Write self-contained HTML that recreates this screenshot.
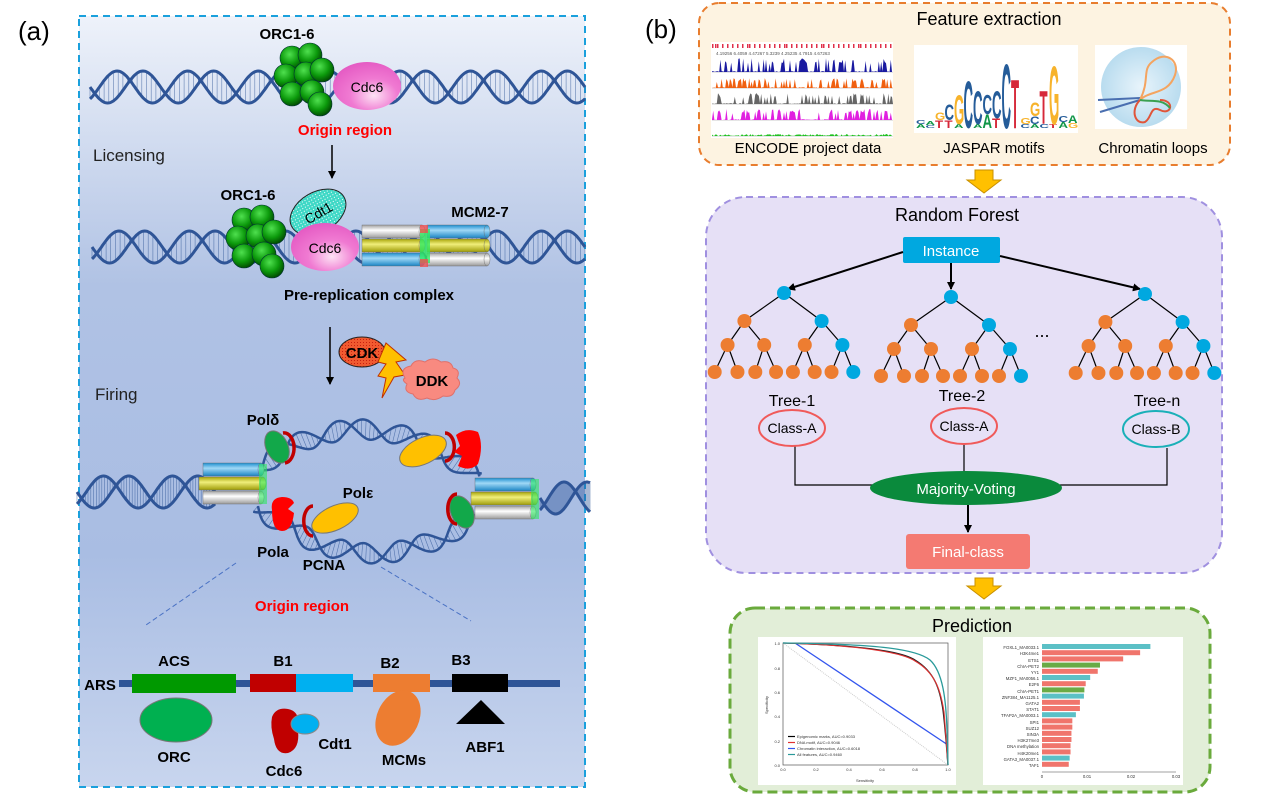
<!DOCTYPE html>
<html><head><meta charset="utf-8"><style>
html,body{margin:0;padding:0;background:#fff}
svg{display:block;font-family:"Liberation Sans",Arial,sans-serif}
.b{font-weight:bold}
</style></head><body>
<svg id="s" width="1268" height="800" viewBox="0 0 1268 800" xmlns="http://www.w3.org/2000/svg">
<defs>
<linearGradient id="lbg" x1="0" y1="0" x2="0" y2="1">
<stop offset="0" stop-color="#eef2fa"/><stop offset="0.35" stop-color="#b0c2e4"/><stop offset="0.7" stop-color="#a9bde3"/><stop offset="1" stop-color="#c8d5ee"/></linearGradient>
<radialGradient id="gb" cx="0.4" cy="0.35" r="0.65"><stop offset="0" stop-color="#4fe04f"/><stop offset="0.6" stop-color="#0c9a0c"/><stop offset="1" stop-color="#024f02"/></radialGradient>
<radialGradient id="pk" cx="0.6" cy="0.7" r="0.7"><stop offset="0" stop-color="#fde2f4"/><stop offset="0.5" stop-color="#f07ad2"/><stop offset="1" stop-color="#e55cc4"/></radialGradient>
<linearGradient id="cb" x1="0" y1="0" x2="0" y2="1"><stop offset="0" stop-color="#1d8fd0"/><stop offset="0.4" stop-color="#9fd8f6"/><stop offset="1" stop-color="#1b84c4"/></linearGradient>
<linearGradient id="cy" x1="0" y1="0" x2="0" y2="1"><stop offset="0" stop-color="#a8a50a"/><stop offset="0.4" stop-color="#f0ee7a"/><stop offset="1" stop-color="#9e9b08"/></linearGradient>
<linearGradient id="cg" x1="0" y1="0" x2="0" y2="1"><stop offset="0" stop-color="#a0a0a0"/><stop offset="0.4" stop-color="#ffffff"/><stop offset="1" stop-color="#999"/></linearGradient>
<linearGradient id="cm" x1="0" y1="0" x2="0" y2="1"><stop offset="0" stop-color="#8a2060"/><stop offset="0.5" stop-color="#c97ab0"/><stop offset="1" stop-color="#7a1a55"/></linearGradient>
<pattern id="dots" width="3" height="3" patternUnits="userSpaceOnUse"><rect width="3" height="3" fill="#3fd8c6"/><rect width="1" height="1" fill="#fff"/></pattern>
<pattern id="dotsr" width="3" height="3" patternUnits="userSpaceOnUse"><rect width="3" height="3" fill="#f05a30"/><rect width="1" height="1" fill="#c82010"/></pattern>
<marker id="ah" markerWidth="8" markerHeight="8" refX="7" refY="4" orient="auto" markerUnits="userSpaceOnUse"><path d="M0,0 L8,4 L0,8 z" fill="#000"/></marker>
<radialGradient id="sph" cx="0.5" cy="0.5" r="0.5"><stop offset="0" stop-color="#e8f4fb"/><stop offset="1" stop-color="#b9dcef"/></radialGradient>
</defs>

<!-- LEFT PANEL -->
<text x="18" y="40" font-size="26">(a)</text>
<rect x="79" y="16" width="506" height="771" fill="url(#lbg)" stroke="#1aa0dc" stroke-width="2" stroke-dasharray="7,5"/>
<g id="dna"></g>
<text x="93" y="161" font-size="17" fill="#222">Licensing</text>
<text x="95" y="400" font-size="17" fill="#222">Firing</text>

<g id="orc1"></g>
<ellipse cx="367" cy="86" rx="34" ry="24" fill="url(#pk)"/>
<text x="367" y="92" font-size="14" text-anchor="middle">Cdc6</text>
<text x="287" y="39" font-size="15" class="b" text-anchor="middle">ORC1-6</text>
<text x="345" y="135" font-size="15" class="b" fill="#f00" text-anchor="middle">Origin region</text>
<line x1="332" y1="145" x2="332" y2="178" stroke="#000" stroke-width="1.5" marker-end="url(#ah)"/>

<text x="248" y="200" font-size="15" class="b" text-anchor="middle">ORC1-6</text>
<g id="orc2"></g>
<g id="mcm1"></g>
<ellipse cx="318" cy="212" rx="30" ry="20" transform="rotate(-30 318 212)" fill="url(#dots)" stroke="#222" stroke-width="1"/>
<text x="318" y="218" font-size="14" text-anchor="middle" transform="rotate(-30 318 212)">Cdt1</text>
<ellipse cx="325" cy="247" rx="34" ry="24" fill="url(#pk)"/>
<text x="325" y="253" font-size="14" text-anchor="middle">Cdc6</text>
<text x="480" y="217" font-size="15" class="b" text-anchor="middle">MCM2-7</text>
<text x="369" y="300" font-size="15" class="b" text-anchor="middle">Pre-replication complex</text>
<line x1="330" y1="327" x2="330" y2="384" stroke="#000" stroke-width="1.5" marker-end="url(#ah)"/>
<ellipse cx="362" cy="352" rx="23" ry="15" fill="url(#dotsr)" stroke="#222"/>
<text x="362" y="358" font-size="15" class="b" text-anchor="middle">CDK</text>
<path d="M386,343 L406,360 L396,362 L405,375 L394,377 L382,398 L386,378 L378,376 L386,364 L378,362 Z" fill="#ffc000" stroke="#c03000" stroke-width="1"/>
<path d="M405,378 q-6,-10 6,-12 q4,-8 14,-4 q8,-6 16,0 q10,-2 12,6 q8,2 4,10 q6,6 -2,12 q-2,8 -12,6 q-8,6 -16,2 q-10,4 -14,-4 q-10,-2 -6,-10 q-6,-4 -2,-6z" fill="#f88a80" stroke="#e0706a"/>
<text x="432" y="386" font-size="15" class="b" text-anchor="middle">DDK</text>

<g id="mcm2"></g>
<g id="prot">
<ellipse cx="277" cy="447" rx="11" ry="17" transform="rotate(-25 277 447)" fill="#12a84a" stroke="#777"/>
<path d="M283,433 a8,12 0 1 1 2,30" fill="none" stroke="#c00000" stroke-width="3.5"/>
<path d="M272,510 q-2,-12 10,-13 q10,0 12,6 l-6,6 l6,4 q-2,18 -12,18 q-10,0 -10,-21z" fill="#f00"/>
<ellipse cx="335" cy="518" rx="25" ry="12" transform="rotate(-25 335 518)" fill="#ffc000" stroke="#777"/>
<path d="M313,506 a8,13 0 1 0 0,30" fill="none" stroke="#c00000" stroke-width="3.5"/>
<ellipse cx="423" cy="451" rx="25" ry="13" transform="rotate(-25 423 451)" fill="#ffc000" stroke="#777"/>
<path d="M445,433 a8,12 0 1 1 0,28" fill="none" stroke="#c00000" stroke-width="3.5"/>
<path d="M456,435 q10,-8 22,-3 q6,14 0,32 q-8,8 -20,2 l4,-10 l-8,-4 l6,-6 z" fill="#f00"/>
<ellipse cx="462" cy="512" rx="11" ry="17" transform="rotate(-25 462 512)" fill="#12a84a" stroke="#777"/>
<path d="M457,494 a8,13 0 1 0 0,30" fill="none" stroke="#c00000" stroke-width="3.5"/>
</g>
<text x="263" y="425" font-size="15" class="b" text-anchor="middle">Polδ</text>
<text x="358" y="498" font-size="15" class="b" text-anchor="middle">Polε</text>
<text x="273" y="557" font-size="15" class="b" text-anchor="middle">Pola</text>
<text x="324" y="570" font-size="15" class="b" text-anchor="middle">PCNA</text>
<line x1="236" y1="563" x2="146" y2="625" stroke="#4a72c4" stroke-dasharray="5,3"/>
<line x1="381" y1="567" x2="471" y2="621" stroke="#4a72c4" stroke-dasharray="5,3"/>
<text x="302" y="611" font-size="15" class="b" fill="#f00" text-anchor="middle">Origin region</text>

<rect x="119" y="680" width="441" height="7" fill="#2f5597"/>
<text x="100" y="690" font-size="15" class="b" text-anchor="middle">ARS</text>
<rect x="132" y="674" width="104" height="19" fill="#009900"/>
<rect x="250" y="674" width="46" height="18" fill="#c00000"/>
<rect x="296" y="674" width="57" height="18" fill="#00b0f0"/>
<rect x="373" y="674" width="57" height="18" fill="#ed7d31"/>
<rect x="452" y="674" width="56" height="18" fill="#000"/>
<text x="174" y="666" font-size="15" class="b" text-anchor="middle">ACS</text>
<text x="283" y="666" font-size="15" class="b" text-anchor="middle">B1</text>
<text x="390" y="668" font-size="15" class="b" text-anchor="middle">B2</text>
<text x="461" y="665" font-size="15" class="b" text-anchor="middle">B3</text>
<ellipse cx="176" cy="720" rx="36" ry="22" fill="#00b050" stroke="#777"/>
<text x="174" y="762" font-size="15" class="b" text-anchor="middle">ORC</text>
<path d="M272,717 q4,-10 16,-8 q10,2 10,12 l-6,4 l6,6 q2,18 -10,22 q-12,2 -14,-14 q-4,-12 -2,-22z" fill="#c00000"/>
<ellipse cx="305" cy="724" rx="14" ry="10" fill="#00b0f0" stroke="#888"/>
<text x="335" y="749" font-size="15" class="b" text-anchor="middle">Cdt1</text>
<text x="284" y="776" font-size="15" class="b" text-anchor="middle">Cdc6</text>
<ellipse cx="398" cy="718" rx="21" ry="29" transform="rotate(25 398 718)" fill="#ed7d31"/>
<text x="404" y="765" font-size="15" class="b" text-anchor="middle">MCMs</text>
<path d="M456,724 L481,700 L505,724 Z" fill="#000"/>
<text x="485" y="752" font-size="15" class="b" text-anchor="middle">ABF1</text>

<!-- RIGHT PANEL -->
<text x="645" y="38" font-size="26">(b)</text>
<rect x="699" y="3" width="531" height="162" rx="20" fill="#fdf3e1" stroke="#e87d2e" stroke-width="2" stroke-dasharray="7,5"/>
<text x="989" y="25" font-size="18" text-anchor="middle">Feature extraction</text>
<g id="enc"></g>
<text x="716" y="55" font-size="4.5" fill="#555">4.19256   6.4059   4.47267    5.3239    4.25235  4.7915  4.67263</text>
<rect x="914" y="45" width="164" height="88" fill="#fff"/>
<g id="logo" font-family="Liberation Sans" font-weight="bold"></g>
<rect x="1095" y="45" width="92" height="84" fill="#fff"/>
<circle cx="1141" cy="87" r="40" fill="url(#sph)"/>
<path d="M1098,100 L1140,98 M1100,112 L1140,100" stroke="#4a6fb0" stroke-width="2"/>
<path d="M1140,100 C1150,80 1142,70 1152,62 C1165,50 1180,60 1175,75 C1168,95 1150,90 1140,100" fill="none" stroke="#f4a460" stroke-width="2"/>
<path d="M1140,100 C1130,110 1135,125 1145,122 C1152,118 1150,105 1160,110 C1172,116 1175,100 1160,100" fill="none" stroke="#e0553a" stroke-width="2"/>
<path d="M1140,100 C1150,102 1162,98 1170,108" fill="none" stroke="#3aa050" stroke-width="2"/>
<text x="808" y="153" font-size="15" text-anchor="middle">ENCODE project data</text>
<text x="994" y="153" font-size="15" text-anchor="middle">JASPAR motifs</text>
<text x="1153" y="153" font-size="15" text-anchor="middle">Chromatin loops</text>
<path d="M975,170 h18 v10 h8 l-17,13 l-17,-13 h8 z" fill="#ffc000" stroke="#c89000"/>

<rect x="706" y="197" width="516" height="376" rx="40" fill="#e6e0f6" stroke="#a090e0" stroke-width="2" stroke-dasharray="7,5"/>
<text x="957" y="221" font-size="18" text-anchor="middle">Random Forest</text>
<rect x="903" y="237" width="97" height="26" rx="2" fill="#00a8e0"/>
<text x="951" y="256" font-size="15" fill="#fff" text-anchor="middle">Instance</text>
<line x1="903" y1="252" x2="788" y2="289" stroke="#000" stroke-width="2" marker-end="url(#ah)"/>
<line x1="951" y1="263" x2="951" y2="289" stroke="#000" stroke-width="2" marker-end="url(#ah)"/>
<line x1="1000" y1="256" x2="1140" y2="289" stroke="#000" stroke-width="2" marker-end="url(#ah)"/>
<g id="trees"></g>
<text x="1042" y="337" font-size="18" text-anchor="middle">...</text>
<text x="792" y="406" font-size="16" text-anchor="middle">Tree-1</text>
<text x="962" y="401" font-size="16" text-anchor="middle">Tree-2</text>
<text x="1157" y="406" font-size="16" text-anchor="middle">Tree-n</text>
<path d="M795,445 V485 H880 M1167,448 V485 H1060 M964,443 V475" fill="none" stroke="#000" stroke-width="1.2"/>
<ellipse cx="792" cy="428" rx="33" ry="18" fill="none" stroke="#f05a5a" stroke-width="2"/>
<ellipse cx="964" cy="426" rx="33" ry="18" fill="none" stroke="#f05a5a" stroke-width="2"/>
<ellipse cx="1156" cy="429" rx="33" ry="18" fill="none" stroke="#1ab0b8" stroke-width="2"/>
<text x="792" y="433" font-size="14" text-anchor="middle">Class-A</text>
<text x="964" y="431" font-size="14" text-anchor="middle">Class-A</text>
<text x="1156" y="434" font-size="14" text-anchor="middle">Class-B</text>
<ellipse cx="966" cy="488" rx="96" ry="17" fill="#0a8a3c"/>
<text x="966" y="494" font-size="15" fill="#fff" text-anchor="middle">Majority-Voting</text>
<line x1="968" y1="505" x2="968" y2="532" stroke="#000" stroke-width="2" marker-end="url(#ah)"/>
<rect x="906" y="534" width="124" height="35" rx="3" fill="#f47a72"/>
<text x="968" y="557" font-size="15" fill="#fff" text-anchor="middle">Final-class</text>
<path d="M975,578 h18 v8 h8 l-17,13 l-17,-13 h8 z" fill="#ffc000" stroke="#c89000"/>

<rect x="730" y="608" width="480" height="184" rx="25" fill="#e2eed8" stroke="#6aaa3c" stroke-width="3" stroke-dasharray="10,5"/>
<text x="972" y="632" font-size="18" text-anchor="middle">Prediction</text>
<rect x="758" y="637" width="198" height="148" fill="#fff"/>
<rect x="983" y="637" width="200" height="148" fill="#fff"/>
<g id="roc" fill="none" stroke-width="1">
<rect x="783" y="643" width="165" height="122" stroke="#555" stroke-width="0.7"/>
<line x1="783" y1="643" x2="948" y2="765" stroke="#ccc" stroke-dasharray="1,1"/>
<line x1="795" y1="643" x2="948" y2="745" stroke="#3355ee" stroke-width="1.3"/>
<path d="M783,643 C850,645 900,650 915,660 C935,672 940,690 943,710 C946,735 947,755 948,765" stroke="#222" stroke-width="1.3"/>
<path d="M783,643 C850,645 900,651 915,661 C936,673 941,692 944,712 C946,735 947,755 948,765" stroke="#e03030" stroke-width="1.1"/>
<path d="M783,643 C870,644 915,648 930,660 C943,672 946,700 947,730 L948,765" stroke="#2a9a9a" stroke-width="1.3"/>
</g>
<g font-size="4" fill="#333">
<text x="780" y="645" text-anchor="end">1.0</text><text x="780" y="670" text-anchor="end">0.8</text><text x="780" y="694" text-anchor="end">0.6</text><text x="780" y="718" text-anchor="end">0.4</text><text x="780" y="743" text-anchor="end">0.2</text><text x="780" y="767" text-anchor="end">0.0</text>
<text x="783" y="771" text-anchor="middle">0.0</text><text x="816" y="771" text-anchor="middle">0.2</text><text x="849" y="771" text-anchor="middle">0.4</text><text x="882" y="771" text-anchor="middle">0.6</text><text x="915" y="771" text-anchor="middle">0.8</text><text x="948" y="771" text-anchor="middle">1.0</text>
<text x="865" y="782" text-anchor="middle">Sensitivity</text>
<text x="768" y="705" text-anchor="middle" transform="rotate(-90 768 705)">Specificity</text>
<text x="797" y="738">Epigenomic marks, AUC=0.9033</text>
<text x="797" y="744">DNA motif, AUC=0.9046</text>
<text x="797" y="750">Chromatin interaction, AUC=0.6018</text>
<text x="797" y="756">All features, AUC=0.9460</text>
</g>
<g stroke-width="1.2"><line x1="788" y1="736.5" x2="795" y2="736.5" stroke="#000"/><line x1="788" y1="742.5" x2="795" y2="742.5" stroke="#e03030"/><line x1="788" y1="748.5" x2="795" y2="748.5" stroke="#3355ee"/><line x1="788" y1="754.5" x2="795" y2="754.5" stroke="#2a9a9a"/></g>
<g id="bars"></g>
<g font-size="4.3" fill="#333" text-anchor="end">
<text x="1039" y="649">FOXL1_MA0033.1</text><text x="1039" y="655">H3K4me1</text><text x="1039" y="662">ETS1</text><text x="1039" y="668">ChIA-PET2</text><text x="1039" y="674">YY1</text><text x="1039" y="680">MZF1_MA0056.1</text><text x="1039" y="686">E2F6</text><text x="1039" y="693">ChIA-PET1</text><text x="1039" y="699">ZNF384_MA1125.1</text><text x="1039" y="705">GATA2</text><text x="1039" y="711">STAT1</text><text x="1039" y="717">TFAP2A_MA0003.1</text><text x="1039" y="724">SPI1</text><text x="1039" y="730">SUZ12</text><text x="1039" y="736">SIN3A</text><text x="1039" y="742">H3K27me3</text><text x="1039" y="748">DNA methylation</text><text x="1039" y="755">H4K20me1</text><text x="1039" y="761">GATA3_MA0037.1</text><text x="1039" y="767">TAF1</text>
</g>
<g font-size="4.3" fill="#333" text-anchor="middle"><text x="1042" y="778">0</text><text x="1087" y="778">0.01</text><text x="1131" y="778">0.02</text><text x="1176" y="778">0.03</text></g>
<line x1="1042" y1="772" x2="1176" y2="772" stroke="#444" stroke-width="0.6"/>
</svg>
<script>
(function(){
var NS="http://www.w3.org/2000/svg";
function el(p,t,a){var e=document.createElementNS(NS,t);for(var k in a)e.setAttribute(k,a[k]);p.appendChild(e);return e;}
var dna=document.getElementById('dna');
function helix(p0,p1,p2,amp,nper,sw){
  var N=Math.max(200,Math.round(nper*60)),A=[],B=[];
  for(var i=0;i<=N;i++){var t=i/N,u=1-t;
    var x=u*u*p0[0]+2*u*t*p1[0]+t*t*p2[0],y=u*u*p0[1]+2*u*t*p1[1]+t*t*p2[1];
    var dx=2*u*(p1[0]-p0[0])+2*t*(p2[0]-p1[0]),dy=2*u*(p1[1]-p0[1])+2*t*(p2[1]-p1[1]);
    var L=Math.hypot(dx,dy)||1,nx=-dy/L,ny=dx/L;
    var a=amp*Math.sin(2*Math.PI*nper*t),b=amp*Math.sin(2*Math.PI*nper*t+2.3);
    A.push([x+nx*a,y+ny*a]);B.push([x+nx*b,y+ny*b]);}
  var h="";for(var i=0;i<=N;i+=4){h+="M"+A[i][0].toFixed(1)+","+A[i][1].toFixed(1)+"L"+B[i][0].toFixed(1)+","+B[i][1].toFixed(1);}
  el(dna,'path',{d:h,stroke:'#2f5597','stroke-width':0.6,fill:'none',opacity:0.7});
  [A,B].forEach(function(P){var d="M"+P.map(function(q){return q[0].toFixed(1)+","+q[1].toFixed(1)}).join("L");
    el(dna,'path',{d:d,stroke:'#2f5597','stroke-width':sw,fill:'none'});});
}
helix([90,87],[337,87],[585,87],16,7,3);
helix([92,247],[338,247],[585,247],16,7,3);
helix([77,492],[146,492],[215,492],16,2,3);
helix([540,498],[565,498],[590,498],16,0.8,3);
helix([255,470],[365,385],[478,478],10,3.6,2.5);
helix([258,506],[365,595],[476,517],10,3.6,2.5);
function balls(id,cx,cy){var g=document.getElementById(id);
  [[-14,-22],[4,-25],[-20,-4],[0,-6],[-14,14],[6,12],[16,-10],[14,24]].forEach(function(o){
   el(g,'circle',{cx:cx+o[0],cy:cy+o[1],r:12,fill:'url(#gb)',stroke:'#033',"stroke-width":0.6});});}
balls('orc1',306,80);balls('orc2',258,242);
function cyl(g,x,y,w,h,f){el(g,'rect',{x:x,y:y,width:w,height:h,fill:f,stroke:'#666','stroke-width':0.4});
  el(g,'ellipse',{cx:x+w,cy:y+h/2,rx:3,ry:h/2,fill:f,stroke:'#666','stroke-width':0.4});}
function mcm(id,x,y,order){var g=document.getElementById(id);
  var cols=['url(#cm)','url(#cg)','url(#cy)','url(#cb)'];
  order.forEach(function(r,i){cyl(g,x,y+i*14,60,13,cols[r[0]]);cyl(g,x+65,y+i*14,60,13,cols[r[1]]);});
  el(g,'rect',{x:x+58,y:y+4,width:10,height:order.length*14-8,fill:'#2ee860',opacity:0.8});
  el(g,'rect',{x:x+58,y:y,width:8,height:8,fill:'#f05050',opacity:0.8});
  el(g,'rect',{x:x+58,y:y+order.length*14-8,width:8,height:8,fill:'#f05050',opacity:0.8});}
mcm('mcm1',362,225,[[1,3],[2,2],[3,1]]);
var g2=document.getElementById('mcm2');
function stack(x,y){cyl(g2,x,y,58,13,'url(#cb)');cyl(g2,x-4,y+14,64,13,'url(#cy)');cyl(g2,x,y+28,58,13,'url(#cg)');
 el(g2,'rect',{x:x+56,y:y+1,width:8,height:40,fill:'#2ee860',opacity:0.6});}
stack(203,463);stack(475,478);
// encode
var enc=document.getElementById('enc');
el(enc,'rect',{x:711,y:42,width:182,height:96,fill:'#fff'});
for(var i=0;i<40;i++){var x=712+Math.floor((i*37)%180);el(enc,'rect',{x:x,y:44,width:1.5,height:4,fill:'#e0304a'});}
var tr=[[72,'#1a1aa0',14],[88,'#f06010',10],[104,'#666',11],[120,'#e020e0',11],[136,'#20c020',2]];
var seed=7;function rnd(){seed=(seed*9301+49297)%233280;return seed/233280;}
tr.forEach(function(t){var d="M712,"+t[0];for(var x=712;x<893;x+=1.2){var v=rnd();var hh=(v>0.6?v*t[2]:v*1.5);d+="L"+x.toFixed(1)+","+(t[0]-hh).toFixed(1);}d+="L893,"+t[0]+"Z";
 el(enc,'path',{d:d,fill:t[1]});el(enc,'line',{x1:712,y1:t[0]+0.5,x2:893,y2:t[0]+0.5,stroke:'#ccc','stroke-width':0.6});});
// trees
var T=document.getElementById('trees');var O='#ed7d31',Bc='#00a8e0';
function tree(rx,ry,s){
 var r=[rx,ry],L1=[[rx-40*s,ry+28],[rx+38*s,ry+28]],
 L2=[[rx-57*s,ry+52],[rx-20*s,ry+52],[rx+21*s,ry+52],[rx+59*s,ry+52]],
 Lv=[-70,-47,-29,-8,9,31,48,70].map(function(d){return[rx+d*s,ry+79];});
 function ln(a,b){el(T,'line',{x1:a[0],y1:a[1],x2:b[0],y2:b[1],stroke:'#000','stroke-width':1.2});}
 ln(r,L1[0]);ln(r,L1[1]);ln(L1[0],L2[0]);ln(L1[0],L2[1]);ln(L1[1],L2[2]);ln(L1[1],L2[3]);
 for(var i=0;i<4;i++){ln(L2[i],Lv[2*i]);ln(L2[i],Lv[2*i+1]);}
 function c(p,f){el(T,'circle',{cx:p[0],cy:p[1],r:7,fill:f});}
 c(r,Bc);c(L1[0],O);c(L1[1],Bc);c(L2[0],O);c(L2[1],O);c(L2[2],O);c(L2[3],Bc);
 Lv.forEach(function(p,i){c(p,i==7?Bc:O);});}
tree(784,293,0.99);tree(951,297,1.0);tree(1145,294,0.99);
// bars
var bars=document.getElementById('bars');
var vals=[[0.0243,'t'],[0.022,'r'],[0.0182,'r'],[0.013,'g'],[0.0125,'r'],[0.0108,'t'],[0.0098,'r'],[0.0095,'g'],[0.0094,'t'],[0.0085,'r'],[0.0085,'r'],[0.0076,'t'],[0.0068,'r'],[0.0068,'r'],[0.0066,'r'],[0.0066,'r'],[0.0064,'r'],[0.0064,'r'],[0.0062,'t'],[0.006,'r']];
var cm={t:'#5bc0c6',r:'#f0756c',g:'#6aab46'};
vals.forEach(function(v,i){el(bars,'rect',{x:1042,y:644+i*6.2,width:v[0]*4460,height:5,fill:cm[v[1]]});});
})();
</script>
<script>
(function(){
// JASPAR logo: stacked stretched letters (letters drawn as real text)
var NS="http://www.w3.org/2000/svg",g=document.getElementById('logo');
var C={A:'#109648',C:'#255c99',G:'#f7b32b',T:'#d62839'};
var cols=[[['A',4],['C',4]],[['C',3],['A',4]],[['T',8],['G',8]],[['T',8],['C',16]],[['A',4],['G',30]],[['C',48]],[['A',4],['C',34]],[['A',14],['C',20]],[['T',10],['C',28]],[['C',66]],[['T',50]],[['C',4],['G',6]],[['A',4],['C',8],['G',14]],[['C',4],['T',34]],[['T',4],['G',60]],[['A',6],['C',6]],[['G',5],['A',8]]];
var x0=916,w=9.5,base=128;
cols.forEach(function(c,i){var y=base;c.forEach(function(l){var h=l[1];var t=document.createElementNS(NS,'text');
 t.setAttribute('transform','translate('+(x0+i*w)+','+y+') scale('+(w/7.2).toFixed(2)+','+(h/7.2).toFixed(2)+')');
 t.setAttribute('font-size','10');t.setAttribute('fill',C[l[0]]);t.textContent=l[0];g.appendChild(t);y-=h;});});
})();
</script>
</body></html>
